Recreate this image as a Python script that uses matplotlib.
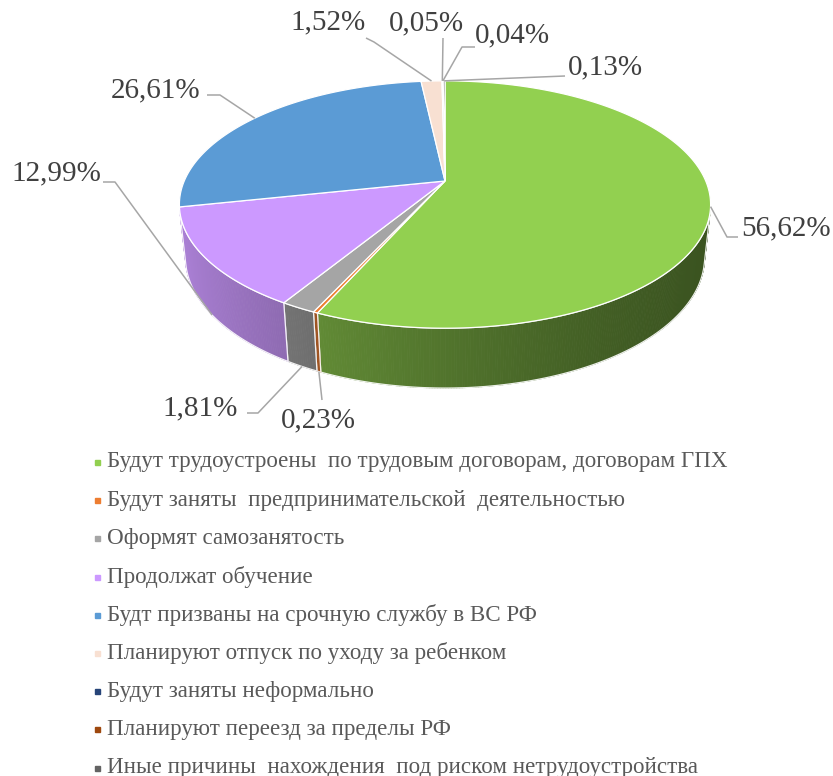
import matplotlib
matplotlib.use("Agg")
import matplotlib.pyplot as plt  # noqa: E402
import numpy as np  # noqa: E402
from matplotlib.collections import PolyCollection  # noqa: E402
from matplotlib.colors import to_rgb  # noqa: E402

# --- данные -------------------------------------------------------------
CATEGORIES = [
    "Будут трудоустроены  по трудовым договорам, договорам ГПХ",
    "Будут заняты  предпринимательской  деятельностью",
    "Оформят самозанятость",
    "Продолжат обучение",
    "Будт призваны на срочную службу в ВС РФ",
    "Планируют отпуск по уходу за ребенком",
    "Будут заняты неформально",
    "Планируют переезд за пределы РФ",
    "Иные причины  нахождения  под риском нетрудоустройства",
]
SHARES = [56.62, 0.23, 1.81, 12.99, 26.61, 1.52, 0.05, 0.04, 0.13]
COLORS = ["#92d050", "#ed7d31", "#a5a5a5", "#cc99ff", "#5b9bd5",
          "#f8e0d2", "#264478", "#9e480e", "#636363"]

# --- геометрия 3D-круга (пиксели) ---------------------------------------
W, H = 833, 776
CX, CY = 445, 181          # проекция центра верхней грани
ELEV = np.radians(27.2)
DIST = 4.675
FOCAL = 1219.0
THICK = 0.229
sE, cE = np.sin(ELEV), np.cos(ELEV)
VIS0 = np.degrees(np.arcsin(1 / (DIST * cE)))
VIS1 = 180 - VIS0

# подписи: центр текста и точки выноски (от текста к кругу)
LABEL_POS = [(786, 228), (318, 420), (200, 408), (56, 173), (156, 90),
             (328, 22), (426, 23), (512, 35), (605, 67)]
LEADER_PTS = [[(738, 237), (727, 237)], [(322, 400)],
              [(247, 413), (258, 413)], [(103, 182), (115, 182)],
              [(207, 95), (220, 95)], [(366, 38), (374, 42)],
              [(443, 38)], [(475, 47), (462, 47)], [(565, 76)]]


def project(phi, y):
    p = np.radians(phi)
    x3, z3 = np.cos(p), np.sin(p)
    t = DIST - (y * sE + z3 * cE)
    return CX + FOCAL * x3 / t, CY - FOCAL * (y * cE - z3 * sE) / t


def shade(color, phi):
    f = 0.40 + 0.45 * ((1 - np.cos(np.radians(phi))) / 2) ** 1.5
    return tuple(np.clip(np.array(to_rgb(color)) * f, 0, 1))


fig = plt.figure(figsize=(W / 100, H / 100), dpi=100)
ax = fig.add_axes([0, 0, 1, 1])
ax.set_xlim(0, W)
ax.set_ylim(H, 0)
ax.axis("off")

bounds = -90 + 360 * np.concatenate([[0], np.cumsum(SHARES)]) / sum(SHARES)

# боковые стенки
for a0, a1, col in zip(bounds[:-1], bounds[1:], COLORS):
    lo, hi = max(a0, VIS0), min(a1, VIS1)
    if hi <= lo:
        continue
    angs = np.linspace(lo, hi, max(2, int((hi - lo) / 0.5) + 2))
    quads, cols = [], []
    for u, v in zip(angs[:-1], angs[1:]):
        quads.append([project(u, 0), project(v, 0),
                      project(v, -THICK), project(u, -THICK)])
        cols.append(shade(col, (u + v) / 2))
    ax.add_collection(PolyCollection(quads, facecolors=cols,
                                     edgecolors=cols, linewidths=0.6))
    outline = ([project(a, 0) for a in angs] +
               [project(a, -THICK) for a in angs[::-1]])
    ax.add_patch(plt.Polygon(outline, closed=True, fill=False,
                             ec="white", lw=0.9, alpha=0.9))

# верхние грани
for a0, a1, col in zip(bounds[:-1], bounds[1:], COLORS):
    angs = np.linspace(a0, a1, max(2, int((a1 - a0) / 0.5) + 2))
    pts = [(CX, CY)] + [project(a, 0) for a in angs]
    ax.add_patch(plt.Polygon(pts, closed=True, fc=col, ec="white", lw=0.9))

# подписи данных
for i, (val, (tx, ty), pts) in enumerate(zip(SHARES, LABEL_POS, LEADER_PTS)):
    mid = (bounds[i] + bounds[i + 1]) / 2
    on_side = np.sin(np.radians(mid)) > np.sin(np.radians(VIS0))
    anchor = project(mid, -THICK if on_side else 0)
    line = list(pts) + [anchor]
    ax.plot([p[0] for p in line], [p[1] for p in line],
            color="#a6a6a6", lw=1.1, solid_capstyle="butt")
    ax.text(tx, ty, f"{val:.2f}".replace(".", ",") + "%",
            ha="center", va="center", fontsize=21,
            family="Liberation Serif", color="#404040")

# легенда
for i, (name, col) in enumerate(zip(CATEGORIES, COLORS)):
    y = 462 + 38.2 * i
    ax.plot([97.5], [y], marker="s", ms=3.6, color=col, mec=col)
    ax.text(107, y, name, ha="left", va="center", fontsize=16.6,
            family="Liberation Serif", color="#595959")

fig.savefig("out.png", dpi=100)
